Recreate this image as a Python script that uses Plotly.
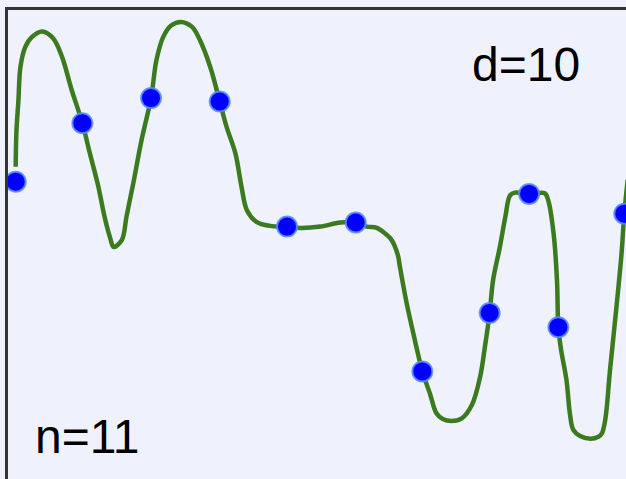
import plotly.graph_objects as go

# Interpolation nodes (n=11)
point_x = [0.00, 0.98, 1.99, 3.00, 3.99, 5.00, 5.98, 6.97, 7.55, 7.98, 8.95]
point_y = [0.71, 1.57, 1.94, 1.89, 0.05, 0.11, -2.08, -1.22, 0.53, -1.43, 0.24]

# Interpolating curve (d=10)
curve_x = [0.00, 0.01, 0.04, 0.07, 0.14, 0.24, 0.39, 0.55, 0.68, 0.82, 0.98, 1.09, 1.21,
           1.31, 1.39, 1.44, 1.56, 1.63, 1.73, 1.85, 1.99, 2.07, 2.17, 2.29, 2.43, 2.59, 2.71,
           2.86, 3.00, 3.10, 3.23, 3.32, 3.40, 3.54, 3.74, 3.99, 4.18, 4.48, 4.77, 5.00,
           5.16, 5.31, 5.43, 5.53, 5.62, 5.65, 5.75, 5.87, 5.98, 6.09, 6.19, 6.28, 6.41,
           6.56, 6.71, 6.83, 6.90, 6.97, 7.02, 7.12, 7.20, 7.27, 7.34, 7.55, 7.78, 7.83,
           7.91, 7.96, 7.98, 8.02, 8.10, 8.15, 8.20, 8.30, 8.45, 8.57, 8.62, 8.67, 8.74,
           8.84, 8.91, 8.95, 9.00]
curve_y = [0.93, 1.43, 1.91, 2.40, 2.69, 2.84, 2.92, 2.82, 2.55, 2.07, 1.57, 1.13, 0.66,
           0.18, -0.12, -0.25, -0.15, 0.20, 0.69, 1.32, 1.94, 2.50, 2.84, 3.01, 3.06, 2.99, 2.79,
           2.40, 1.89, 1.52, 1.13, 0.64, 0.29, 0.12, 0.06, 0.05, 0.03, 0.05, 0.11, 0.11,
           0.05, 0.03, -0.05, -0.15, -0.37, -0.54, -1.08, -1.62, -2.08, -2.40, -2.70, -2.78, -2.81,
           -2.77, -2.57, -2.16, -1.72, -1.22, -0.74, -0.25, 0.19, 0.51, 0.55, 0.53, 0.54, 0.44,
           -0.05, -0.74, -1.43, -1.76, -2.21, -2.70, -2.94, -3.03, -3.07, -3.04, -2.99, -2.79, -2.06,
           -1.08, -0.34, 0.24, 0.74]

labels = ["d=10", "n=11"]

BG = "#eff2fc"
GREEN = "#3b7a1e"

fig = go.Figure()
fig.add_trace(go.Scatter(x=curve_x, y=curve_y, mode="lines",
                         line=dict(color=GREEN, width=4.5, shape="spline", smoothing=1.0),
                         hoverinfo="skip", showlegend=False))
fig.add_trace(go.Scatter(x=point_x, y=point_y, mode="markers",
                         marker=dict(color="#0000ff", size=20,
                                     line=dict(color="rgba(90,140,255,0.85)", width=2)),
                         showlegend=False))

fig.add_annotation(text=labels[0], xref="paper", yref="paper", x=(525.5 - 8) / 618,
                   y=1 - (65 - 10) / 469, xanchor="center", yanchor="middle",
                   showarrow=False, font=dict(family="Liberation Sans, Arial", size=48, color="black"))
fig.add_annotation(text=labels[1], xref="paper", yref="paper", x=(87 - 8) / 618,
                   y=1 - (436.5 - 10) / 469, xanchor="center", yanchor="middle",
                   showarrow=False, font=dict(family="Liberation Sans, Arial", size=48, color="black"))

fig.update_layout(
    width=626, height=479,
    margin=dict(l=8, r=0, t=10, b=0),
    paper_bgcolor=BG, plot_bgcolor=BG,
    xaxis=dict(range=[-0.1132, 8.975], side="top", showline=True, linecolor="#333333",
               linewidth=3, showgrid=False, zeroline=False, showticklabels=False, ticks=""),
    yaxis=dict(range=[-3.662, 3.235], showline=True, linecolor="#333333", linewidth=3,
               showgrid=False, zeroline=False, showticklabels=False, ticks=""),
)

fig.write_html("out.html", config={"displayModeBar": False},
               post_script="document.body.style.margin='0';document.body.style.overflow='hidden';"
                           "document.body.style.background='" + BG + "';")
